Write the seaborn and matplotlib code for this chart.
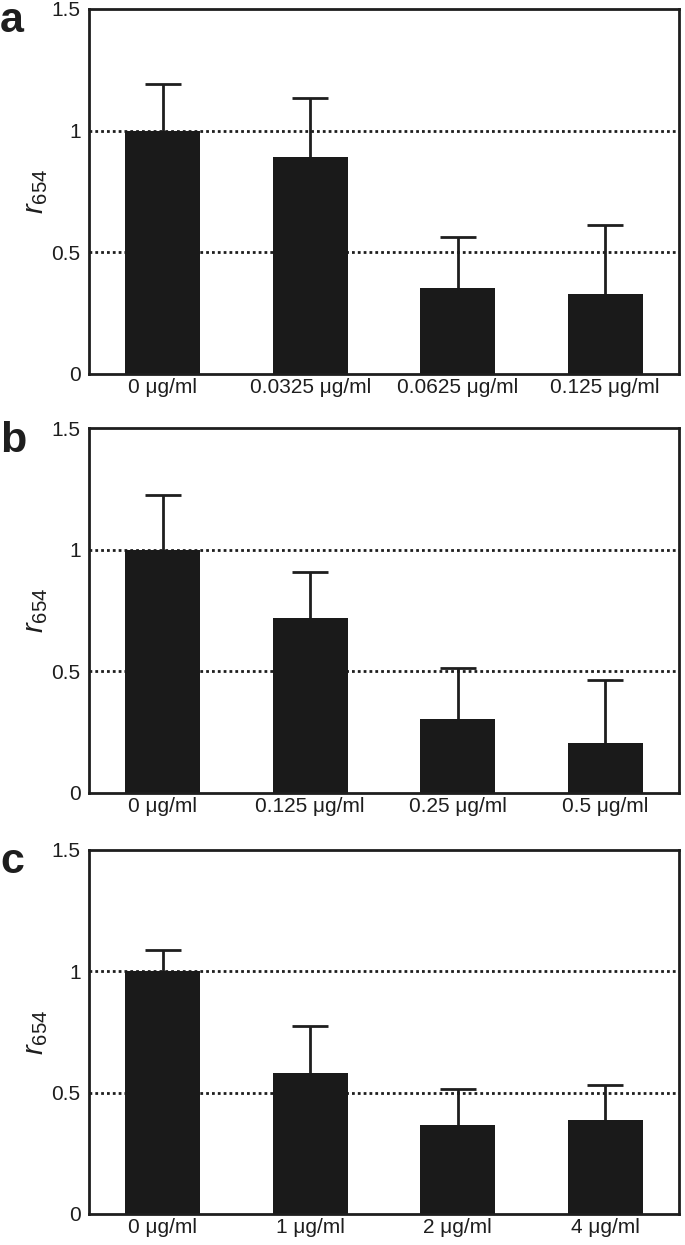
import matplotlib
matplotlib.use("Agg")
import matplotlib.pyplot as plt
import seaborn as sns
import numpy as np

# -------------------------------------------------------------------
# Data
# -------------------------------------------------------------------
labels_a = ["0 μg/ml", "0.0325 μg/ml", "0.0625 μg/ml", "0.125 μg/ml"]
means_a = [1.0, 0.89, 0.355, 0.33]
tops_a = [1.19, 1.135, 0.563, 0.612]

labels_b = ["0 μg/ml", "0.125 μg/ml", "0.25 μg/ml", "0.5 μg/ml"]
means_b = [1.0, 0.72, 0.305, 0.206]
tops_b = [1.226, 0.91, 0.513, 0.465]

labels_c = ["0 μg/ml", "1 μg/ml", "2 μg/ml", "4 μg/ml"]
means_c = [1.0, 0.58, 0.366, 0.387]
tops_c = [1.086, 0.774, 0.514, 0.531]

panel_letters = ["a", "b", "c"]
y_ticks = [0, 0.5, 1, 1.5]
y_ticklabels = ["0", "0.5", "1", "1.5"]

sns.set_style("white")
plt.rcParams["font.family"] = ["Liberation Sans", "DejaVu Sans"]
plt.rcParams["mathtext.fontset"] = "custom"
plt.rcParams["mathtext.rm"] = "Liberation Sans"
plt.rcParams["mathtext.it"] = "Liberation Sans:italic"

BAR = "#1a1a1a"
INK = "#1e1e1e"

fig = plt.figure(figsize=(6.85, 12.45), dpi=100)

# axes boxes in figure fractions (left, bottom, width, height)
boxes = [
    (0.130, 0.6996, 0.861, 0.2932),
    (0.130, 0.3631, 0.861, 0.2931),
    (0.130, 0.0249, 0.861, 0.2924),
]
panels = [(labels_a, means_a, tops_a), (labels_b, means_b, tops_b), (labels_c, means_c, tops_c)]

for i, (box, (labels, means, tops)) in enumerate(zip(boxes, panels)):
    ax = fig.add_axes(box)
    # dotted reference lines behind bars
    for yref in [0.5, 1.0]:
        ax.axhline(yref, color=INK, lw=2.0, ls=(0, (1, 1.1)), zorder=0)
    upper = np.array(tops) - np.array(means)
    eb = ax.errorbar(np.arange(len(means)), means, yerr=[np.zeros(len(means)), upper],
                     fmt="none", ecolor=INK, elinewidth=2.0, capsize=13, capthick=2.0, zorder=1)
    # only keep the upper caps
    for cap in eb.lines[1]:
        if np.allclose(cap.get_ydata(), means):
            cap.remove()
    sns.barplot(x=labels, y=means, ax=ax, color=BAR, saturation=1, width=0.51,
                errorbar=None, linewidth=0, zorder=2)
    ax.set_xlim(-0.5, len(means) - 0.5)
    ax.set_ylim(0, 1.5)
    ax.set_yticks(y_ticks)
    ax.set_yticklabels(y_ticklabels)
    ax.tick_params(axis="both", length=0, labelsize=15, colors=INK)
    ax.tick_params(axis="y", pad=6)
    ax.tick_params(axis="x", pad=3, labelsize=15)
    for sp in ax.spines.values():
        sp.set_visible(True)
        sp.set_linewidth(2.0)
        sp.set_color(INK)
    ax.set_ylabel(r"$\mathit{r}_{\mathregular{654}}$", fontsize=21, color=INK, labelpad=1)
    ax.set_xlabel("")
    # panel letter
    fig.text(0.0, box[1] + box[3] + 0.006, panel_letters[i], fontsize=31,
             fontweight="heavy", color=INK, va="top", ha="left")

fig.savefig("out.png", dpi=100, facecolor="white")
